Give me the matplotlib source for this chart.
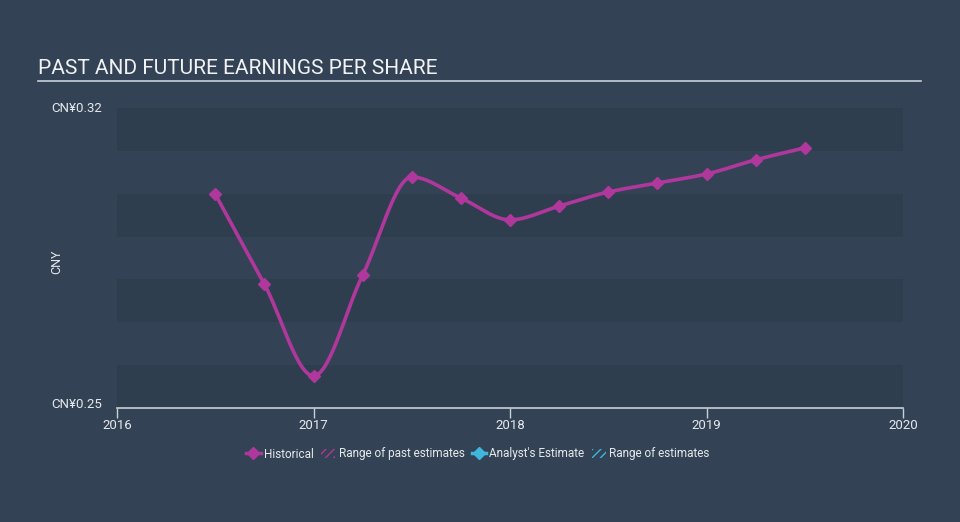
import numpy as np
import matplotlib
matplotlib.use("Agg")
import matplotlib.pyplot as plt
from matplotlib.lines import Line2D
from matplotlib.patches import Patch

plt.rcParams['font.family'] = ['Roboto', 'DejaVu Sans']

# Data
dates = [2016.5, 2016.75, 2017.0, 2017.25, 2017.5, 2017.75, 2018.0,
         2018.25, 2018.5, 2018.75, 2019.0, 2019.25, 2019.5]
eps = [0.2999, 0.2789, 0.2575, 0.2810, 0.3039, 0.2990, 0.2939,
       0.2971, 0.3004, 0.3025, 0.3046, 0.3079, 0.3107]
x_ticks = [2016, 2017, 2018, 2019, 2020]
y_min, y_max = 0.25, 0.32
y_tick_labels = ["CN¥0.25", "CN¥0.32"]

BG = "#334355"
BAND = "#2f3e4f"
LINE = "#b0379b"
CYAN = "#3fb6dc"
TXT = "#e6e9ec"


def monotone(x, y, n=30):
    x = np.asarray(x, float); y = np.asarray(y, float)
    h = np.diff(x); d = np.diff(y) / h
    m = np.zeros_like(y)
    m[0] = d[0]; m[-1] = d[-1]
    for i in range(1, len(y) - 1):
        if d[i - 1] * d[i] <= 0:
            m[i] = 0
        else:
            w1 = 2 * h[i] + h[i - 1]; w2 = h[i] + 2 * h[i - 1]
            m[i] = (w1 + w2) / (w1 / d[i - 1] + w2 / d[i])
    xs, ys = [], []
    for i in range(len(x) - 1):
        t = np.linspace(0, 1, n, endpoint=(i == len(x) - 2))
        hh = h[i]
        h00 = 2 * t**3 - 3 * t**2 + 1
        h10 = t**3 - 2 * t**2 + t
        h01 = -2 * t**3 + 3 * t**2
        h11 = t**3 - t**2
        xs.append(x[i] + t * hh)
        ys.append(h00 * y[i] + h10 * hh * m[i] + h01 * y[i + 1] + h11 * hh * m[i + 1])
    return np.concatenate(xs), np.concatenate(ys)


fig = plt.figure(figsize=(9.6, 5.22), dpi=100, facecolor=BG)
ax = fig.add_axes([117 / 960, 1 - 408 / 522, (903 - 117) / 960, 300 / 522])
ax.set_facecolor(BG)
ax.set_xlim(2016, 2020)
ax.set_ylim(y_min, y_max)

# alternating bands
for k in range(7):
    lo = y_min + k * 0.01
    if k % 2 == 0:
        ax.axhspan(lo, lo + 0.01, color=BAND, lw=0, zorder=0)

xs, ys = monotone(dates, eps)
ax.plot(xs, ys, color=LINE, lw=2.6, zorder=3, solid_capstyle='round')
ax.plot(dates, eps, ls='none', marker='D', ms=6, color=LINE, zorder=4)

for s in ['top', 'right', 'left']:
    ax.spines[s].set_visible(False)
ax.spines['bottom'].set_color('#c8d0d8')
ax.spines['bottom'].set_linewidth(1.2)
ax.set_xticks(x_ticks)
ax.set_xticklabels([str(t) for t in x_ticks])
ax.tick_params(axis='x', colors='#c8d0d8', labelcolor=TXT, length=7, width=1, labelsize=9.5, pad=1)
ax.set_yticks([])

fig.text(102 / 960, 1 - 108 / 522, y_tick_labels[1], color=TXT, fontsize=9.5, ha='right', va='center')
fig.text(102 / 960, 1 - 405 / 522, y_tick_labels[0], color=TXT, fontsize=9.5, ha='right', va='center')
fig.text(57 / 960, 1 - 262 / 522, "CNY", color=TXT, fontsize=9, rotation=90, ha='center', va='center')

fig.text(38 / 960, 1 - 68 / 522, "PAST AND FUTURE EARNINGS PER SHARE", color='#f0f2f4', fontsize=15, ha='left', va='center')
fig.add_artist(Line2D([38 / 960, 921 / 960], [1 - 81 / 522, 1 - 81 / 522], color='#c8d0d8', lw=1.2))

handles = [
    Line2D([0], [0], color=LINE, lw=2.5, marker='D', ms=6),
    Patch(facecolor='none', edgecolor=LINE, hatch='////', lw=0),
    Line2D([0], [0], color=CYAN, lw=2.5, marker='D', ms=6),
    Patch(facecolor='none', edgecolor=CYAN, hatch='////', lw=0),
]
labels = ["Historical", "Range of past estimates", "Analyst's Estimate", "Range of estimates"]
leg = fig.legend(handles, labels, loc='center', bbox_to_anchor=(478 / 960, 1 - 454 / 522), ncol=4,
                 frameon=False, fontsize=8.5, labelcolor=TXT, handlelength=1.2, handletextpad=0.3,
                 columnspacing=0.6, handleheight=0.8)

fig.savefig("out.png", dpi=100, facecolor=BG)
